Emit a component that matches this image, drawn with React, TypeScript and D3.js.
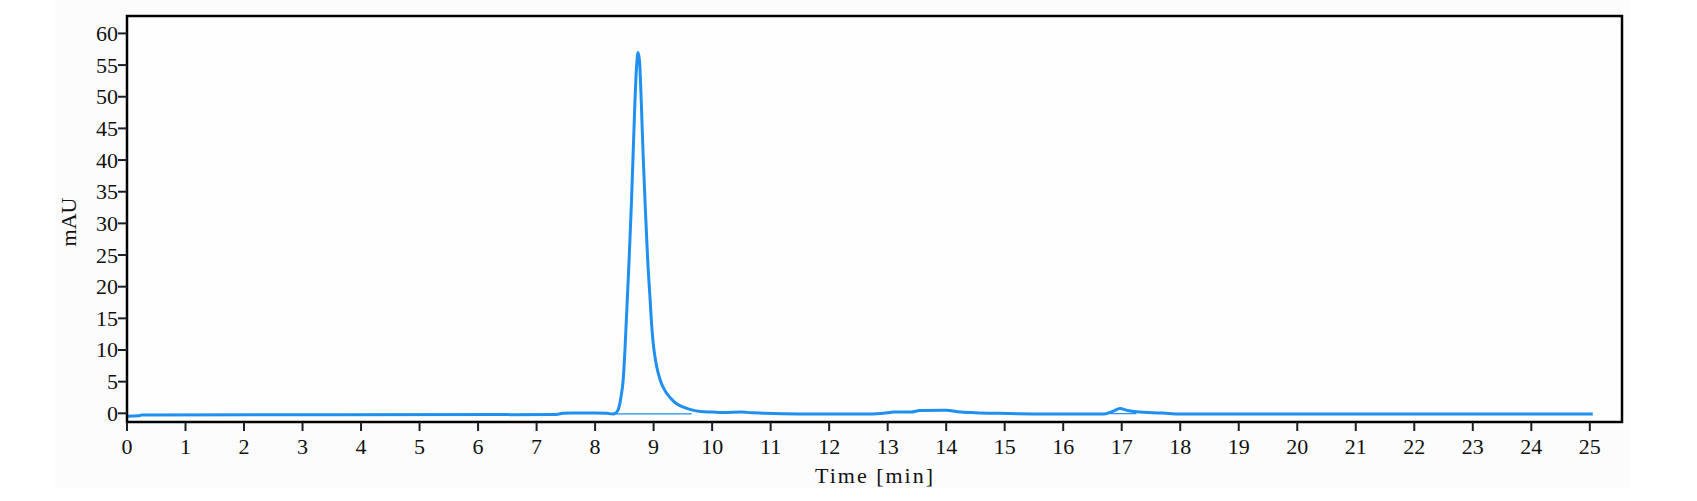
import * as d3 from "d3";

// retention time [min] and absorbance [mAU]
const times = [
  0, 0.2, 0.25, 7.3, 7.45, 7.6, 8.0, 8.2, 8.3, 8.36, 8.41, 8.45, 8.48, 8.51,
  8.55, 8.58, 8.62, 8.65, 8.68, 8.71, 8.735, 8.76, 8.79, 8.82, 8.86, 8.9,
  8.94, 8.97, 9.0, 9.04, 9.08, 9.13, 9.2, 9.28, 9.38, 9.5, 9.65, 9.8, 10.0,
  10.2, 10.5, 10.6, 10.9, 11.5, 12.7, 13.0, 13.1, 13.4, 13.55, 14.0, 14.2,
  14.5, 14.9, 15.8, 16.7, 16.85, 16.97, 17.1, 17.25, 17.7, 18.0, 25.05,
];
const signal = [
  -0.45, -0.4, -0.25, -0.2, 0.0, 0.05, 0.05, 0.0, -0.1, 0.1, 1.0, 3.0, 5.3,
  10, 18, 24, 33, 41, 49, 55, 57, 55.5, 49, 41, 32, 24, 18, 13.5, 10.5, 8,
  6.3, 4.8, 3.5, 2.5, 1.6, 1.0, 0.55, 0.3, 0.2, 0.12, 0.2, 0.15, 0.0, -0.1,
  -0.1, 0.1, 0.2, 0.2, 0.45, 0.5, 0.25, 0.1, 0.0, -0.1, -0.1, 0.3, 0.75,
  0.45, 0.25, 0.05, -0.1, -0.1,
];

// integration baselines drawn under the peaks: [start, end, level]
const baselines: [number, number, number][] = [
  [8.36, 9.65, -0.08],
  [16.8, 17.25, -0.05],
];

const xTicks = d3.range(0, 26, 1);
const yTicks = d3.range(0, 61, 5);

const W = 1697;
const H = 501;
const left = 127;
const right = 1622;
const top = 16;
const bottom = 422;

const font = "'Liberation Serif', 'DejaVu Serif', serif";

export default function App() {
  const x = d3.scaleLinear().domain([0, 25.55]).range([left, right]);
  const y = d3.scaleLinear().domain([-1.37, 62.75]).range([bottom, top]);

  const pts = times.map((t, i) => [t, signal[i]] as [number, number]);
  const line = d3
    .line<[number, number]>()
    .x((d) => x(d[0]))
    .y((d) => y(d[1]))
    .curve(d3.curveMonotoneX);

  return (
    <svg
      width={W}
      height={H}
      style={{ position: "absolute", left: 0, top: 0 }}
    >
      <rect x={0} y={0} width={W} height={H} fill="#ffffff" />
      <rect x={55} y={0} width={1575} height={488} fill="#fcfcfc" />
      <rect
        x={left}
        y={top}
        width={right - left}
        height={bottom - top}
        fill="#fefefe"
      />

      {baselines.map(([a, b, v], i) => (
        <line
          key={i}
          x1={x(a)}
          x2={x(b)}
          y1={y(v)}
          y2={y(v)}
          stroke="#1f8ff0"
          strokeWidth={1.2}
        />
      ))}

      <path
        d={line(pts) ?? ""}
        fill="none"
        stroke="#1f8ff0"
        strokeWidth={3}
        strokeLinejoin="round"
      />

      <rect
        x={left}
        y={top}
        width={right - left}
        height={bottom - top}
        fill="none"
        stroke="#000"
        strokeWidth={2.5}
      />

      {xTicks.map((t) => (
        <g key={"x" + t} transform={`translate(${x(t)},0)`}>
          <line y1={bottom} y2={bottom + 9} stroke="#1a1f2b" strokeWidth={2} />
          <text
            y={454}
            textAnchor="middle"
            fontFamily={font}
            fontSize={22}
            fill="#111"
          >
            {t}
          </text>
        </g>
      ))}

      {yTicks.map((v) => (
        <g key={"y" + v} transform={`translate(0,${y(v)})`}>
          <line x1={left - 9} x2={left} stroke="#1a1f2b" strokeWidth={2} />
          <text
            x={left - 9}
            dy="0.34em"
            textAnchor="end"
            fontFamily={font}
            fontSize={22}
            fill="#111"
          >
            {v}
          </text>
        </g>
      ))}

      <text
        x={874}
        y={483}
        textAnchor="middle"
        fontFamily={font}
        fontSize={22}
        textLength={118}
        fill="#111"
      >
        Time [min]
      </text>
      <text
        transform="translate(76,222) rotate(-90)"
        textAnchor="middle"
        fontFamily={font}
        fontSize={22}
        fill="#111"
      >
        mAU
      </text>
    </svg>
  );
}
